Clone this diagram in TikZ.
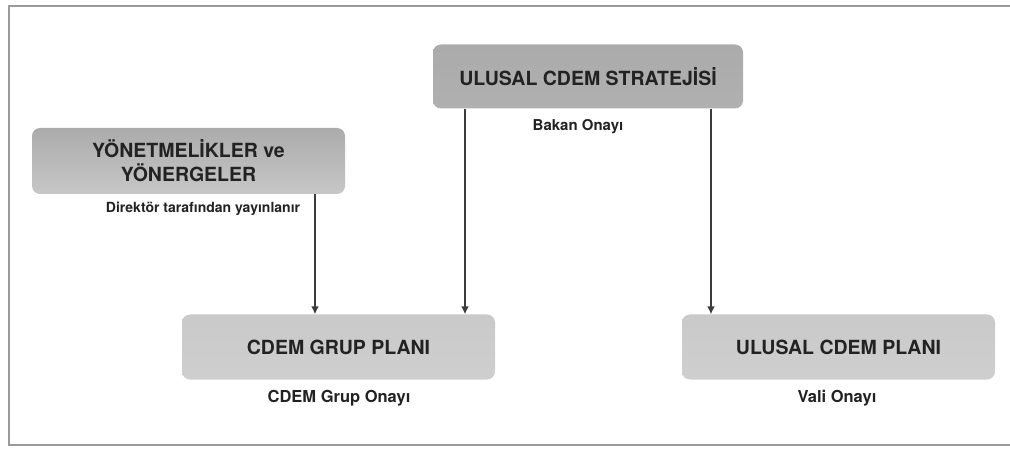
\documentclass[tikz,border=0pt]{standalone}
\usepackage{fontspec}
\setmainfont{TeX Gyre Heros}
\usetikzlibrary{arrows.meta}
\definecolor{ink}{HTML}{222222}
\definecolor{linegray}{HTML}{3C3C3C}
\definecolor{framegray}{HTML}{9A9A9A}
\tikzset{
  plan/.style={rectangle, rounded corners=8pt, minimum width=313pt, minimum height=65pt,
    text=ink, font=\bfseries\fontsize{19.5}{24}\selectfont, align=center, inner sep=0pt},
  upper/.style={plan, top color=black!33, bottom color=black!22},
  lower/.style={plan, top color=black!21, middle color=black!30, bottom color=black!19},
  approval/.style={text=ink, font=\bfseries\fontsize{#1}{18}\selectfont, inner sep=0pt},
  approval/.default=15,
  link/.style={draw=linegray, line width=1.8pt, -{Latex[length=8pt,width=8pt]}}
}
\begin{document}
\begin{tikzpicture}[x=1pt, y=-1pt]
  \useasboundingbox (0,0) rectangle (1010,449);
  % outer frame, open towards the right edge
  \begin{scope}
    \clip (0,0) rectangle (1010,449);
    \draw[framegray, line width=2pt] (9,6) rectangle (1030,445);
  \end{scope}

  % plans and strategies
  \node[plan, top color=black!33, middle color=black!24, bottom color=black!31, minimum width=310pt, minimum height=64pt] (strat) at (588,76.5) {ULUSAL CDEM STRATEJİSİ};
  \node[upper, minimum height=66pt] (yon) at (188.5,161) {YÖNETMELİKLER ve\\YÖNERGELER};
  \node[lower] (grup) at (338.5,347) {CDEM GRUP PLANI};
  \node[lower] (ulusal) at (838.5,347) {ULUSAL CDEM PLANI};

  % approval labels
  \node[approval=15] (bakan) at (578,127) {Bakan Onayı};
  \node[approval=14] (direktor) at (203,209) {Direktör tarafından yayınlanır};
  \node[approval=16.5] (grupok) at (339,398) {CDEM Grup Onayı};
  \node[approval=16.5] (valiok) at (837,398) {Vali Onayı};

  % connector columns
  \coordinate (c1) at (315,0);
  \coordinate (c2) at (465,0);
  \coordinate (c3) at (711,0);
  \draw[link] (yon.south -| c1) -- (grup.north -| c1);
  \draw[link] (strat.south -| c2) -- (grup.north -| c2);
  \draw[link] (strat.south -| c3) -- (ulusal.north -| c3);
\end{tikzpicture}
\end{document}
